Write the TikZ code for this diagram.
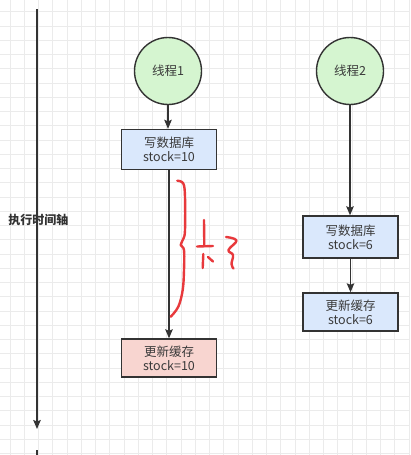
\documentclass[tikz,border=0pt]{standalone}
\usepackage{fontspec}
\setmainfont{Noto Sans CJK SC}
\usetikzlibrary{arrows.meta}
\definecolor{ink}{HTML}{333333}
\definecolor{txt}{HTML}{3A3A3A}
\definecolor{gridc}{HTML}{EBEBEB}
\definecolor{greenf}{HTML}{D5F5D0}
\definecolor{bluef}{HTML}{DAE8FC}
\definecolor{pinkf}{HTML}{F8D5D0}
\definecolor{redpen}{HTML}{E8393C}
\tikzset{
  thread/.style={circle, draw=ink, line width=1.4pt, fill=greenf, minimum size=67pt, inner sep=0pt,
    text=txt, font=\fontsize{12.5}{14}\selectfont},
  opbox/.style={rectangle, draw=ink, line width=1.4pt, minimum width=95pt, inner sep=0pt,
    align=center, text=txt, font=\fontsize{12.5}{14}\selectfont},
  flow/.style={draw=ink, line width=1.4pt, -{Stealth[length=9pt,width=7.5pt,inset=1.5pt]}},
  pen/.style={draw=redpen, line width=2.4pt, line cap=round, line join=round}
}
\begin{document}
\begin{tikzpicture}[x=1pt,y=-1pt]
\useasboundingbox (0,0) rectangle (410,455);
\fill[white] (0,0) rectangle (410,455);
% grid
\foreach \i in {0,...,28} {
  \draw[gridc, line width=0.8pt] ({10+14.25*\i},0) -- ({10+14.25*\i},455);
}
\foreach \j in {0,...,31} {
  \draw[gridc, line width=0.8pt] (0,{11.7+14.25*\j}) -- (410,{11.7+14.25*\j});
}
% time axis
\coordinate (ax0) at (37,9);
\coordinate (ax1) at (37,429);
\draw[flow] (ax0) -- (ax1);
\coordinate (st0) at (37,450);
\coordinate (st1) at (37,455);
\draw[draw=ink, line width=1.4pt] (st0) -- (st1);
\node[text=ink, font=\fontsize{12}{14}\selectfont\bfseries] (axl) at (38.3,220) {执行时间轴};
% thread 1
\node[thread] (c1) at (168,71) {线程1};
\node[opbox, fill=bluef, minimum height=40pt] (b1) at (169,149.5) {写数据库\\stock=10};
\node[opbox, fill=pinkf, minimum height=38pt] (b3) at (169,358) {更新缓存\\stock=10};
\draw[flow] (c1) -- (c1 |- b1.north);
\draw[flow] (b1) -- (b3);
% thread 2
\node[thread] (c2) at (350,71) {线程2};
\node[opbox, fill=bluef, minimum height=42pt] (b2) at (350.5,237) {写数据库\\stock=6};
\node[opbox, fill=bluef, minimum height=38pt] (b4) at (350.5,312) {更新缓存\\stock=6};
\draw[flow] (c2) -- (c2 |- b2.north);
\draw[flow] (b2) -- (b4);
% handwriting
\draw[pen] plot[smooth, tension=0.6] coordinates {(177.3,180.7) (183.3,183.5) (185,197) (185,230) (183.5,238.5) (180.7,245) (184,250) (184,270) (182.7,290) (178.3,306.7) (170.7,316.7)};
\draw[pen] (204,220) -- (204.3,246);
\draw[pen] (197,246.5) -- (213,246);
\draw[pen] (203.3,254) -- (202.7,268);
\draw[pen] (208,257) -- (213,261.5);
\draw[pen] plot[smooth, tension=0.7] coordinates {(226,237) (236.5,240.5) (228.5,250) (233,255) (231.5,264) (233.5,268.5)};
\end{tikzpicture}
\end{document}
